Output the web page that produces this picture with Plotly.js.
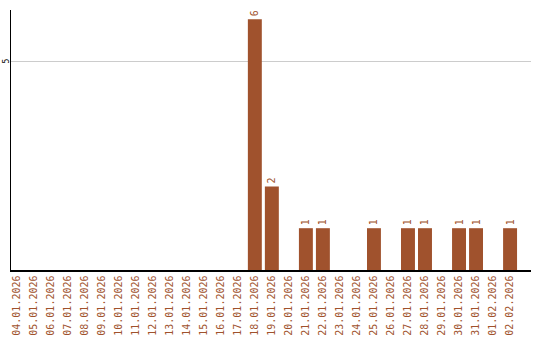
<!DOCTYPE html>
<html><head><meta charset="utf-8">
<script src="https://cdn.plot.ly/plotly-3.0.1.min.js"></script>
<style>html,body{margin:0;padding:0;background:#fff}#c{width:540px;height:340px}</style>
</head><body><div id="c"></div>
<script>
var dates = ["04.01.2026","05.01.2026","06.01.2026","07.01.2026","08.01.2026","09.01.2026","10.01.2026","11.01.2026","12.01.2026","13.01.2026","14.01.2026","15.01.2026","16.01.2026","17.01.2026","18.01.2026","19.01.2026","20.01.2026","21.01.2026","22.01.2026","23.01.2026","24.01.2026","25.01.2026","26.01.2026","27.01.2026","28.01.2026","29.01.2026","30.01.2026","31.01.2026","01.02.2026","02.02.2026"];
var counts = [0,0,0,0,0,0,0,0,0,0,0,0,0,0,6,2,0,1,1,0,0,1,0,1,1,0,1,1,0,1];
var yTicks = [5];

var brown = "#a0522d";
var mono = "DejaVu Sans Mono, monospace";
var trace = {
  type: "bar",
  x: dates,
  y: counts,
  text: counts.map(function(v){return v > 0 ? String(v) : "";}),
  textposition: "outside",
  textangle: -90,
  cliponaxis: false,
  textfont: {family: mono, size: 10, color: brown},
  marker: {color: brown},
  hoverinfo: "none"
};
var yLabels = yTicks.map(function(v){
  return {xref: "paper", yref: "y", x: 0, y: v, text: String(v),
          showarrow: false, textangle: -90, xanchor: "center", yanchor: "middle",
          borderpad: 0, borderwidth: 0,
          xshift: -5.5, font: {family: mono, size: 8, color: "#000"}};
});
var layout = {
  width: 540, height: 340,
  margin: {l: 11, r: 9, t: 10, b: 70},
  paper_bgcolor: "#fff", plot_bgcolor: "#fff",
  bargap: 0.18,
  showlegend: false,
  annotations: yLabels,
  xaxis: {
    type: "category",
    range: [-0.33, 30.23],
    showgrid: false,
    showline: true, linecolor: "#000", linewidth: 1.5,
    ticks: "",
    tickangle: -90,
    tickfont: {family: mono, size: 10, color: brown},
    zeroline: false
  },
  yaxis: {
    range: [0, 6.22],
    tickvals: yTicks,
    showticklabels: false,
    showgrid: true, gridcolor: "#cccccc", gridwidth: 1,
    showline: true, linecolor: "#000", linewidth: 1.5,
    ticks: "",
    zeroline: false
  }
};
Plotly.newPlot("c", [trace], layout, {staticPlot: true, displayModeBar: false});
</script>
</body></html>
